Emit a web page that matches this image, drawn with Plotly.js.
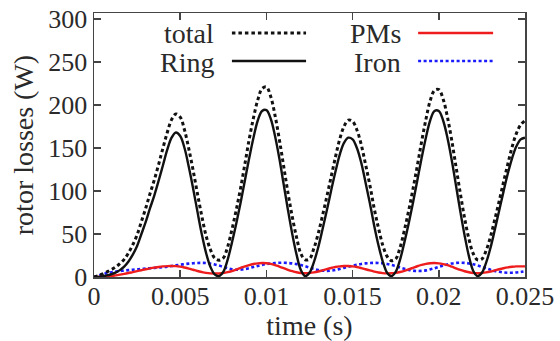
<!DOCTYPE html>
<html>
<head>
<meta charset="utf-8">
<script src="https://cdn.plot.ly/plotly-3.0.1.min.js"></script>
<style>html,body{margin:0;padding:0;background:#fff;}#chart{width:560px;height:341px;}</style>
</head>
<body>
<div id="chart"></div>
<script>
// time (s), step 0.00025
const time = [];
for (let i = 0; i <= 100; i++) time.push(+(i * 0.00025).toFixed(5));

const ring = [
  0, 0.2, 0.8, 1.8, 3.2, 5, 8, 12, 18, 26,
  36, 50, 64, 80, 95, 112, 130, 148, 162, 168,
  164, 150, 128, 103, 76, 50, 28, 12, 3, 1,
  6, 20, 40, 62, 86, 112, 138, 162, 182, 193,
  194, 184, 164, 138, 108, 78, 50, 26, 8, 1,
  5, 17, 34, 55, 77, 100, 122, 142, 156, 162,
  160, 150, 133, 110, 86, 60, 37, 18, 5, 1,
  6, 20, 40, 62, 86, 112, 138, 162, 182, 193,
  193, 182, 162, 136, 106, 76, 48, 24, 7, 1,
  5, 17, 34, 55, 77, 99, 120, 138, 152, 160,
  162
];

const total = [
  0, 1.5, 3.5, 6, 8.5, 11.5, 15.5, 20.5, 28, 37.5,
  49, 64.5, 80, 97, 113, 131, 150, 168, 183, 189.5,
  186, 171, 149, 124, 97, 71, 48, 32, 22, 19.5,
  22, 35, 55, 78, 103, 131, 160, 185, 206, 219,
  221, 210, 188, 160, 129, 98, 70, 46, 27, 20,
  21, 33, 50, 71, 93, 116, 139, 160, 175, 182.5,
  181, 171, 154, 131, 107, 80, 57, 37, 24, 19,
  21, 34, 54, 77, 102, 129, 157, 183, 205, 217,
  218, 207, 186, 159, 128, 97, 68, 44, 27, 20,
  21, 31, 47, 67, 88, 110, 131, 151, 167, 177,
  182
];

const pms = [
  0, 0.1, 0.3, 0.7, 1.2, 1.9, 2.7, 3.6, 4.6, 5.7,
  6.8, 7.9, 9, 10, 10.9, 11.7, 12.3, 12.7, 12.8, 12.6,
  12, 11, 9.8, 8.4, 7, 5.8, 4.8, 4.2, 4, 4.1,
  4.6, 5.6, 7, 8.7, 10.5, 12.3, 13.9, 15.1, 15.9, 16.2,
  16, 15.2, 13.9, 12.2, 10.3, 8.4, 6.8, 5.5, 4.7, 4.4,
  4.6, 5.3, 6.4, 7.8, 9.2, 10.5, 11.6, 12.4, 12.8, 12.8,
  12.4, 11.6, 10.4, 9, 7.6, 6.3, 5.2, 4.5, 4.2, 4.3,
  4.8, 5.8, 7.2, 8.9, 10.7, 12.5, 14, 15.2, 16, 16.2,
  15.9, 15, 13.7, 12, 10.1, 8.3, 6.7, 5.5, 4.7, 4.4,
  4.6, 5.3, 6.4, 7.7, 9, 10.2, 11.2, 11.9, 12.3, 12.4,
  12.3
];

const iron = [
  0, 1.5, 3, 4.5, 5.5, 6.3, 7, 7.5, 8, 8.5,
  9, 9.4, 9.8, 10.2, 10.6, 11, 11.5, 12, 12.7, 13.5,
  14.3, 15, 15.6, 16, 16.3, 16.4, 16.2, 15.6, 14.6, 13.3,
  11.8, 10.2, 9, 8.4, 8.5, 9.2, 10.3, 11.6, 12.9, 14.1,
  15.1, 15.8, 16.3, 16.5, 16.5, 16.3, 15.8, 15, 13.9, 12.5,
  11, 9.5, 8.2, 7.4, 7.1, 7.4, 8.2, 9.3, 10.6, 11.9,
  13.1, 14.2, 15.1, 15.8, 16.2, 16.4, 16.3, 15.9, 15.1, 14,
  12.6, 11.1, 9.6, 8.3, 7.4, 7, 7.1, 7.7, 8.8, 10.2,
  11.7, 13.2, 14.6, 15.7, 16.4, 16.6, 16.4, 15.8, 14.8, 13.4,
  11.8, 10, 8.4, 7, 6, 5.3, 5, 5, 5.3, 5.9,
  6.8
];

const xTickVals = [0, 0.005, 0.01, 0.015, 0.02, 0.025];
const xTickText = ['0', '0.005', '0.01', '0.015', '0.02', '0.025'];
const yTickVals = [0, 50, 100, 150, 200, 250, 300];
const legendNames = ['total', 'Ring', 'PMs', 'Iron'];

const FONT = 'Liberation Serif';
const TXT = '#2a2a2a';

const traces = [
  {x: time, y: iron, mode: 'lines', name: 'Iron', line: {color: '#1a1aff', width: 2.6, dash: '3px,2.5px', shape: 'spline'}},
  {x: time, y: pms, mode: 'lines', name: 'PMs', line: {color: '#ee1c1c', width: 2.4, shape: 'spline'}},
  {x: time, y: ring, mode: 'lines', name: 'Ring', line: {color: '#111', width: 2.4, shape: 'spline'}},
  {x: time, y: total, mode: 'lines', name: 'total', line: {color: '#111', width: 3, dash: '3.5px,3px', shape: 'spline'}}
];

// legend (gnuplot style: text then sample), positions in paper coords
const annotations = [
  {text: legendNames[0], x: 0.283, y: 0.922},
  {text: legendNames[1], x: 0.283, y: 0.812},
  {text: legendNames[2], x: 0.717, y: 0.922},
  {text: legendNames[3], x: 0.717, y: 0.812}
].map(a => Object.assign(a, {xref: 'paper', yref: 'paper', xanchor: 'right', yanchor: 'middle', showarrow: false, font: {family: FONT, size: 28, color: TXT}}));

const shapes = [
  {x0: 0.320, x1: 0.492, y: 0.924, color: '#111', dash: '3.5px,3px', width: 3},
  {x0: 0.320, x1: 0.492, y: 0.818, color: '#111', dash: 'solid', width: 2.6},
  {x0: 0.752, x1: 0.926, y: 0.924, color: '#ee1c1c', dash: 'solid', width: 2.6},
  {x0: 0.752, x1: 0.926, y: 0.818, color: '#1a1aff', dash: '3px,2.5px', width: 2.6}
].map(s => ({type: 'line', xref: 'paper', yref: 'paper', x0: s.x0, x1: s.x1, y0: s.y, y1: s.y, line: {color: s.color, width: s.width, dash: s.dash}}));

const axisCommon = {
  showgrid: false, zeroline: false, showline: true, linecolor: '#444', linewidth: 1.5,
  mirror: 'ticks', ticks: 'inside', ticklen: 7, tickwidth: 1.5, tickcolor: '#444',
  tickfont: {family: FONT, size: 26, color: TXT}
};

const layout = {
  width: 560, height: 341,
  margin: {l: 94, r: 35, t: 13, b: 64},
  paper_bgcolor: '#fff', plot_bgcolor: '#fff',
  font: {family: FONT, color: TXT},
  showlegend: false,
  xaxis: Object.assign({}, axisCommon, {
    range: [0, 0.025], tickvals: xTickVals, ticktext: xTickText, ticklabelstandoff: -5,
    title: {text: 'time (s)', font: {family: FONT, size: 28, color: TXT}, standoff: 0}
  }),
  yaxis: Object.assign({}, axisCommon, {
    range: [0, 307], tickvals: yTickVals,
    title: {text: 'rotor losses (W)', font: {family: FONT, size: 28, color: TXT}, standoff: 6}
  }),
  annotations: annotations,
  shapes: shapes
};

Plotly.newPlot('chart', traces, layout, {staticPlot: true, displayModeBar: false});
</script>
</body>
</html>
